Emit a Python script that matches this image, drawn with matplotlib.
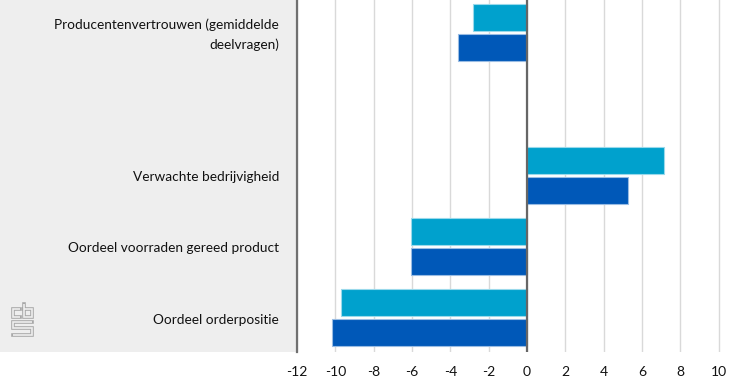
import matplotlib

matplotlib.use("Agg")
import matplotlib.pyplot as plt
from matplotlib.patches import Rectangle

W, H = 734, 379

categories = [
    "Producentenvertrouwen (gemiddelde\ndeelvragen)",
    "",
    "Verwachte bedrijvigheid",
    "Oordeel voorraden gereed product",
    "Oordeel orderpositie",
]
light_values = [-2.8, None, 7.15, -6.05, -9.7]
dark_values = [-3.6, None, 5.25, -6.05, -10.2]
x_ticks = [-12, -10, -8, -6, -4, -2, 0, 2, 4, 6, 8, 10]

LIGHT = "#00a1cd"
DARK = "#0058b8"
TEXT = "#111111"

plt.rcParams["font.family"] = ["Lato", "DejaVu Sans"]

fig = plt.figure(figsize=(W / 100, H / 100), dpi=100)
fig.add_artist(
    Rectangle((0, 27 / H), 297 / W, 352 / H, transform=fig.transFigure,
              facecolor="#eeeeee", edgecolor="none", zorder=-1)
)

ax = fig.add_axes([297 / W, 27 / H, (W - 297) / W, 352 / H])
ax.patch.set_alpha(0)
ax.set_xlim(-12, 10.8)
ax.set_ylim(4.48, -0.46)

for i in range(len(categories)):
    if light_values[i] is not None:
        ax.barh(i - 0.21, light_values[i], height=0.38, color=LIGHT,
                edgecolor="#99d9eb", linewidth=0.8, zorder=3)
    if dark_values[i] is not None:
        ax.barh(i + 0.21, dark_values[i], height=0.38, color=DARK,
                edgecolor="#99bce3", linewidth=0.8, zorder=3)

ax.axvline(0, color="#666666", linewidth=1.6, zorder=4)
ax.set_xticks(x_ticks)
ax.set_xticklabels([str(t) for t in x_ticks], fontsize=10, color=TEXT)
ax.set_yticks([])
for i, label in enumerate(categories):
    ax.annotate(label, xy=(0, i), xycoords=ax.get_yaxis_transform(),
                xytext=(-13, -1.3), textcoords="offset points", ha="right", va="center",
                fontsize=9.8, color=TEXT, linespacing=1.65, annotation_clip=False)
ax.tick_params(axis="x", length=0, pad=10)
ax.grid(axis="x", color="#d9d9d9", linewidth=1, zorder=0)
ax.set_axisbelow(True)
for name in ["top", "right", "bottom"]:
    ax.spines[name].set_visible(False)
ax.spines["left"].set_color("#707070")
ax.spines["left"].set_linewidth(1.6)

# cbs logo, drawn in pixel coordinates of the picture
logo = fig.add_axes([9 / W, (H - 339) / H, 27 / W, 39 / H])
logo.set_xlim(9, 36)
logo.set_ylim(339, 300)
logo.axis("off")
logo_paths = [
    ([20, 13, 13, 20], [309, 309, 317, 317]),
    ([24, 24, 32, 32, 24], [304, 317, 317, 309, 309]),
    ([32, 13, 13, 32, 32, 13], [322, 322, 328, 328, 335, 335]),
]
for xs, ys in logo_paths:
    logo.plot(xs, ys, color="#a8a8a8", linewidth=2.6, solid_capstyle="projecting",
              solid_joinstyle="miter")
for xs, ys in logo_paths:
    logo.plot(xs, ys, color="#eeeeee", linewidth=1.2, solid_capstyle="butt",
              solid_joinstyle="miter")

fig.savefig("out.png", dpi=100)
plt.close(fig)
